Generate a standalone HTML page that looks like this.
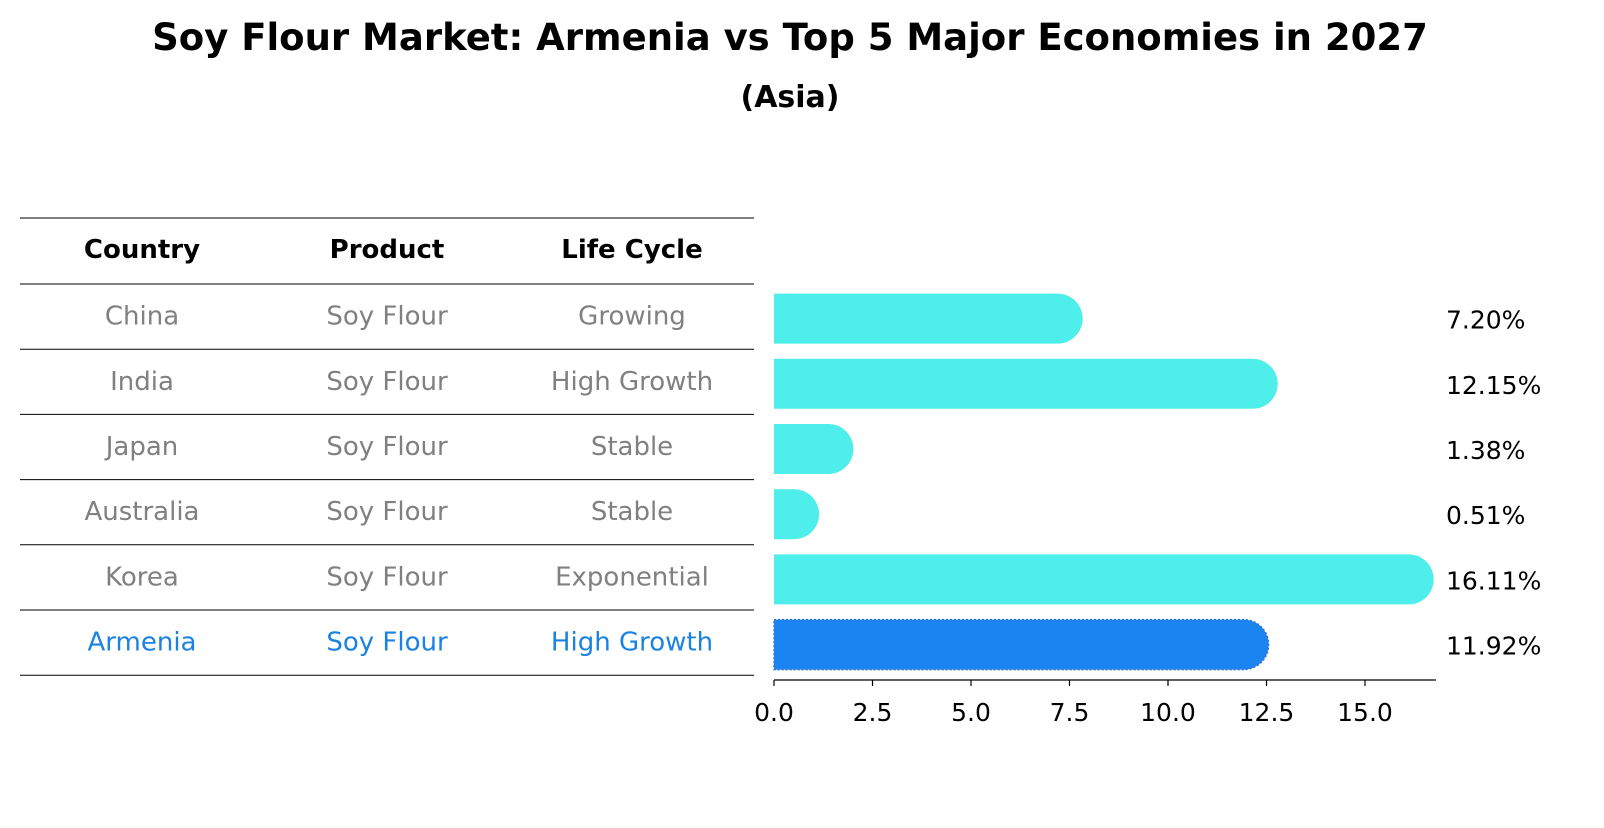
<!DOCTYPE html>
<html><head><meta charset="utf-8"><style>
body{margin:0;background:#fff;font-family:"Liberation Sans","DejaVu Sans",sans-serif;overflow:hidden;}
svg text{font-family:"DejaVu Sans","Liberation Sans",sans-serif;}
</style></head><body>
<svg id="chart" width="1604" height="823" viewBox="0 0 1604 823" xmlns="http://www.w3.org/2000/svg">
<text x="790" y="50" text-anchor="middle" font-size="37" font-weight="bold">Soy Flour Market: Armenia vs Top 5 Major Economies in 2027</text>
<text x="790" y="107" text-anchor="middle" font-size="30" font-weight="bold">(Asia)</text>
<g id="table"></g>
<g id="bars"></g>
</svg>
<script>
const countries=["China","India","Japan","Australia","Korea","Armenia"];
const products=["Soy Flour","Soy Flour","Soy Flour","Soy Flour","Soy Flour","Soy Flour"];
const lifeCycles=["Growing","High Growth","Stable","Stable","Exponential","High Growth"];
const values=[7.20,12.15,1.38,0.51,16.11,11.92];
const tickValues=[0,2.5,5,7.5,10,12.5,15];
const tickLabels=["0.0","2.5","5.0","7.5","10.0","12.5","15.0"];

const NS="http://www.w3.org/2000/svg";
function mk(tag,attrs,parent){const e=document.createElementNS(NS,tag);for(const k in attrs)e.setAttribute(k,attrs[k]);parent.appendChild(e);return e;}
const x0=774,pxPerUnit=39.4;
function xs(v){return x0+v*pxPerUnit;}
const rowTop=284,rowH=65.2;
function yc(i){return rowTop+rowH*i+rowH/2;}

const table=document.getElementById('table');
const lineYs=[218];for(let i=0;i<=countries.length;i++)lineYs.push(rowTop+rowH*i);
lineYs.forEach(y=>{const l=mk('line',{x1:20,x2:754,y1:y,y2:y,stroke:'#000','stroke-width':1},table);

});
const colX=[142,387,632];const headers=["Country","Product","Life Cycle"];
headers.forEach((h,j)=>{const t=mk('text',{x:colX[j],y:258,'text-anchor':'middle','font-size':26,'font-weight':'bold'},table);t.textContent=h;

});
countries.forEach((c,i)=>{const cells=[c,products[i],lifeCycles[i]];const col=i===countries.length-1?'#1a82e0':'#808080';
cells.forEach((v,j)=>{const t=mk('text',{x:colX[j],y:yc(i)+8,'text-anchor':'middle','font-size':26,fill:col},table);t.textContent=v;

});});

const bars=document.getElementById('bars');
const bh=50,r=25;
values.forEach((v,i)=>{const last=i===values.length-1;const fill=last?'#1a85f0':'#4eeeea';
const y=yc(i)-bh/2+2;const xe=xs(v);
const p=mk('path',{d:`M${x0},${y} H${xe} A${r},${r} 0 0 1 ${xe},${y+bh} H${x0} Z`,fill:fill},bars);
if(last){p.setAttribute('stroke','#3a70d0');p.setAttribute('stroke-dasharray','2,2');p.setAttribute('stroke-width','1.5');}


const t=mk('text',{x:1446,y:yc(i)+12,'font-size':25},bars);t.textContent=values[i].toFixed(2)+'%';

});
const ax=mk('line',{x1:x0,x2:1436,y1:680,y2:680,stroke:'#000','stroke-width':1.2},bars);


tickValues.forEach((tv,i)=>{const x=xs(tv);mk('line',{x1:x,x2:x,y1:680,y2:686,stroke:'#000','stroke-width':1.2},bars);
const t=mk('text',{x:x,y:721,'text-anchor':'middle','font-size':25},bars);t.textContent=tickLabels[i];

});
</script>
</body></html>
